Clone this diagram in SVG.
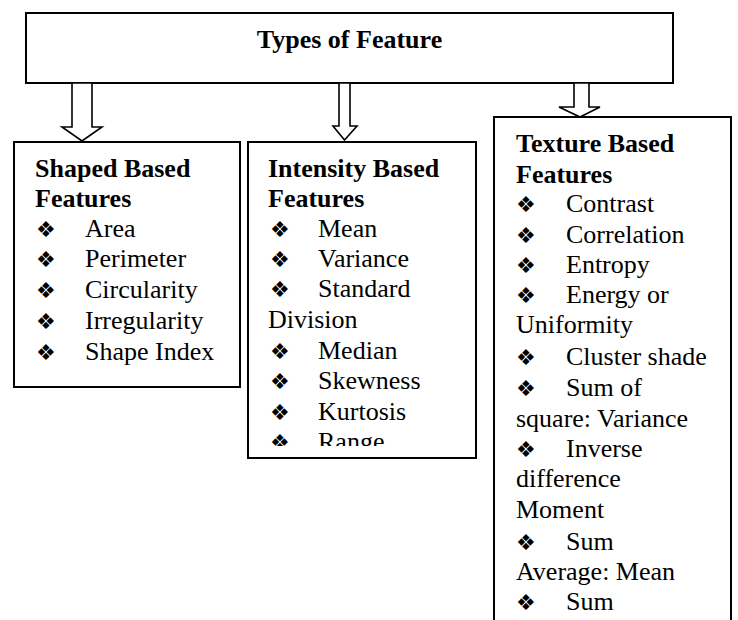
<svg xmlns="http://www.w3.org/2000/svg" width="738" height="620" viewBox="0 0 738 620">
<style>
.box{fill:#fff;stroke:#000;stroke-width:2}
.arr{fill:#fff;stroke:#000;stroke-width:1.6;stroke-linejoin:miter}
text{font-family:"Liberation Serif","Times New Roman",serif;font-size:26px;fill:#000}
.h{font-weight:bold}
.b{font-family:"DejaVu Sans",sans-serif;font-size:22px}
</style>
<defs>
<clipPath id="clip2"><rect x="248" y="143" width="228" height="303"/></clipPath>
</defs>
<rect width="738" height="620" fill="#fff"/>
<g id="types">
<rect class="box" x="26" y="13" width="647" height="70"/>
<text class="h" x="349.5" y="48" text-anchor="middle">Types of Feature</text>
</g>
<g id="connectors">
<polygon class="arr" points="72,83 72,127 62,127 82,141 102,127 92,127 92,83"/>
<polygon class="arr" points="339,83 339,126 333,126 344.5,140 357,126 350,126 350,83"/>
<polygon class="arr" points="574,83 574,107 559,107 580,117 600,107 589,107 589,83"/>
</g>
<g id="shape">
<rect class="box" x="14" y="142" width="226" height="245"/>
<text class="h" x="35" y="177">Shaped Based</text>
<text class="h" x="35" y="207">Features</text>
<text class="b" x="36" y="237">❖</text><text x="85" y="237">Area</text>
<text class="b" x="36" y="267">❖</text><text x="85" y="267">Perimeter</text>
<text class="b" x="36" y="298">❖</text><text x="85" y="298">Circularity</text>
<text class="b" x="36" y="329">❖</text><text x="85" y="329">Irregularity</text>
<text class="b" x="36" y="360">❖</text><text x="85" y="360">Shape Index</text>
</g>
<g id="intensity">
<rect class="box" x="248" y="142" width="228" height="316"/>
<g clip-path="url(#clip2)">
<text class="h" x="268" y="177">Intensity Based</text>
<text class="h" x="268" y="207">Features</text>
<text class="b" x="270" y="237">❖</text><text x="318" y="237">Mean</text>
<text class="b" x="270" y="267">❖</text><text x="318" y="267">Variance</text>
<text class="b" x="270" y="297">❖</text><text x="318" y="297">Standard</text>
<text x="268" y="328">Division</text>
<text class="b" x="270" y="359">❖</text><text x="318" y="359">Median</text>
<text class="b" x="270" y="389">❖</text><text x="318" y="389">Skewness</text>
<text class="b" x="270" y="420">❖</text><text x="318" y="420">Kurtosis</text>
<text class="b" x="270" y="450">❖</text><text x="318" y="450">Range</text>
</g>
</g>
<g id="texture">
<path class="box" d="M494,622 V117 H731 V622"/>
<text class="h" x="516" y="152">Texture Based</text>
<text class="h" x="516" y="183">Features</text>
<text class="b" x="516" y="212">❖</text><text x="566" y="212">Contrast</text>
<text class="b" x="516" y="243">❖</text><text x="566" y="243">Correlation</text>
<text class="b" x="516" y="273">❖</text><text x="566" y="273">Entropy</text>
<text class="b" x="516" y="303">❖</text><text x="566" y="303">Energy or</text>
<text x="516" y="333">Uniformity</text>
<text class="b" x="516" y="365">❖</text><text x="566" y="365">Cluster shade</text>
<text class="b" x="516" y="396">❖</text><text x="566" y="396">Sum of</text>
<text x="516" y="427">square: Variance</text>
<text class="b" x="516" y="457">❖</text><text x="566" y="457">Inverse</text>
<text x="516" y="487">difference</text>
<text x="516" y="518">Moment</text>
<text class="b" x="516" y="550">❖</text><text x="566" y="550">Sum</text>
<text x="516" y="580">Average: Mean</text>
<text class="b" x="516" y="610">❖</text><text x="566" y="610">Sum</text>
</g>
</svg>
